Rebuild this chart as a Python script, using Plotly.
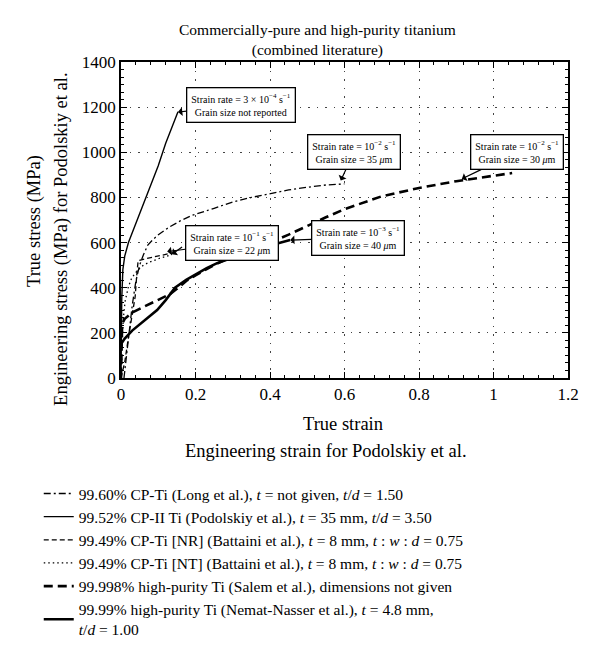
import plotly.graph_objects as go

# ---------------- data ----------------
long_x = [0.008, 0.015, 0.022, 0.030, 0.040, 0.050, 0.060, 0.072, 0.085, 0.099, 0.115, 0.13, 0.16, 0.19, 0.25, 0.30, 0.35, 0.40, 0.45, 0.50, 0.55, 0.60]
long_y = [0, 100, 200, 320, 430, 500, 545, 589, 612, 633, 652, 669, 697, 720, 752, 780, 800, 818, 833, 845, 855, 860]

podol_x = [0.0, 0.002, 0.005, 0.010, 0.020, 0.032, 0.045, 0.060, 0.073, 0.086, 0.10, 0.12, 0.14, 0.153]
podol_y = [0, 350, 480, 540, 600, 650, 705, 770, 825, 877, 940, 1040, 1130, 1180]

nr_x = [0.0, 0.010, 0.020, 0.032, 0.038, 0.042, 0.046, 0.060, 0.090, 0.120, 0.140]
nr_y = [0, 70, 180, 288, 360, 450, 520, 526, 536, 548, 555]

nt_x = [0.0, 0.003, 0.006, 0.011, 0.020, 0.028, 0.038, 0.050, 0.060, 0.075, 0.090, 0.105, 0.120, 0.137]
nt_y = [0, 150, 260, 340, 405, 440, 465, 485, 500, 512, 522, 531, 538, 548]

salem_x = [0.0, 0.003, 0.010, 0.030, 0.060, 0.10, 0.13, 0.15, 0.175, 0.20, 0.25, 0.30, 0.35, 0.40, 0.45, 0.50, 0.55, 0.60, 0.70, 0.80, 0.90, 1.00, 1.05]
salem_y = [0, 240, 262, 290, 315, 345, 370, 395, 430, 455, 500, 540, 570, 600, 635, 675, 712, 748, 805, 842, 872, 896, 908]

nemat_x = [0.0, 0.01, 0.03, 0.06, 0.097, 0.12, 0.145, 0.175, 0.204, 0.23, 0.258, 0.29, 0.32, 0.38, 0.454]
nemat_y = [150, 175, 210, 252, 301, 345, 400, 435, 463, 487, 509, 528, 545, 578, 611]

series_names = [
    "99.60% CP-Ti (Long et al.), <i>t</i> = not given, <i>t</i>/<i>d</i> = 1.50",
    "99.52% CP-II Ti (Podolskiy et al.), <i>t</i> = 35 mm, <i>t</i>/<i>d</i> = 3.50",
    "99.49% CP-Ti [NR] (Battaini et al.), <i>t</i> = 8 mm, <i>t</i> : <i>w</i> : <i>d</i> = 0.75",
    "99.49% CP-Ti [NT] (Battaini et al.), <i>t</i> = 8 mm, <i>t</i> : <i>w</i> : <i>d</i> = 0.75",
    "99.998% high-purity Ti (Salem et al.), dimensions not given",
    "99.99% high-purity Ti (Nemat-Nasser et al.), <i>t</i> = 4.8 mm,<br><i>t</i>/<i>d</i> = 1.00",
]

x_ticks = [0, 0.2, 0.4, 0.6, 0.8, 1.0, 1.2]
x_ticktext = ["0", "0.2", "0.4", "0.6", "0.8", "1", "1.2"]
y_ticks = [0, 200, 400, 600, 800, 1000, 1200, 1400]

FONT = "Liberation Serif"

fig = go.Figure()
styles = [
    (long_x, long_y, dict(color="black", width=1.3, dash="7px,3px,2px,3px")),
    (podol_x, podol_y, dict(color="black", width=1.4, dash="solid")),
    (nr_x, nr_y, dict(color="black", width=1.3, dash="5px,3px")),
    (nt_x, nt_y, dict(color="black", width=1.3, dash="1.5px,3px")),
    (salem_x, salem_y, dict(color="black", width=2.6, dash="9px,5px")),
    (nemat_x, nemat_y, dict(color="black", width=2.6, dash="solid")),
]
for (xs, ys, ln), name in zip(styles, series_names):
    fig.add_trace(go.Scatter(x=xs, y=ys, mode="lines", line=ln, name=name))

ann_font = dict(family=FONT, size=10, color="black")
box = dict(bordercolor="black", borderwidth=1.3, bgcolor="white", borderpad=4,
           font=ann_font, showarrow=True, arrowhead=1, arrowsize=1.2, arrowwidth=1.2,
           arrowcolor="black", axref="x", ayref="y", xref="x", yref="y")

annotations = [
    dict(text="Strain rate = 3 × 10<sup>−4</sup> s<sup>−1</sup><br>Grain size not reported",
         x=0.153, y=1178, ax=0.322, ay=1210, **box),
    dict(text="Strain rate = 10<sup>−2</sup> s<sup>−1</sup><br>Grain size = 35 <i>μ</i>m",
         x=0.59, y=875, ax=0.625, ay=1000, **box),
    dict(text="Strain rate = 10<sup>−2</sup> s<sup>−1</sup><br>Grain size = 30 <i>μ</i>m",
         x=0.915, y=882, ax=1.063, ay=1000, **box),
    dict(text="Strain rate = 10<sup>−1</sup> s<sup>−1</sup><br>Grain size = 22 <i>μ</i>m",
         x=0.124, y=560, ax=0.297, ay=597, **box),
    dict(text="Strain rate = 10<sup>−3</sup> s<sup>−1</sup><br>Grain size = 40 <i>μ</i>m",
         x=0.454, y=611, ax=0.636, ay=622, **box),
]
annotations.append(dict(text="", x=0.137, y=548, ax=0.168, ay=585, xref="x", yref="y",
                        axref="x", ayref="y", showarrow=True, arrowhead=1, arrowsize=1.2,
                        arrowwidth=1.2, arrowcolor="black"))
annotations += [
    dict(text="Commercially-pure and high-purity titanium<br>(combined literature)",
         xref="paper", yref="paper", x=0.44, y=1.0, yshift=1, xanchor="center", yanchor="bottom",
         showarrow=False, font=dict(family=FONT, size=15.5, color="black")),
    dict(text="True strain", xref="paper", yref="paper", x=0.496, y=0, yshift=-34,
         xanchor="center", yanchor="top", showarrow=False,
         font=dict(family=FONT, size=18.5, color="black")),
    dict(text="Engineering strain for Podolskiy et al.", xref="paper", yref="paper",
         x=0.459, y=0, yshift=-61, xanchor="center", yanchor="top", showarrow=False,
         font=dict(family=FONT, size=18.5, color="black")),
    dict(text="True stress (MPa)", xref="paper", yref="paper", x=0, xshift=-86,
         y=0.497, xanchor="center", yanchor="middle", textangle=-90, showarrow=False,
         font=dict(family=FONT, size=18.5, color="black")),
    dict(text="Engineering stress (MPa) for Podolskiy et al.", xref="paper", yref="paper",
         x=0, xshift=-59, y=0.437, xanchor="center", yanchor="middle", textangle=-90,
         showarrow=False, font=dict(family=FONT, size=18.5, color="black")),
]

axis_common = dict(
    showline=True, linecolor="black", linewidth=1.5, mirror="ticks",
    ticks="inside", ticklen=6, tickwidth=1.2, tickcolor="black",
    showgrid=True, gridcolor="#444", gridwidth=1, griddash="1.5px,7px",
    zeroline=False, tickfont=dict(family=FONT, size=17, color="black"),
    automargin=False,
)

fig.update_layout(
    width=592, height=657,
    margin=dict(l=113, r=32, t=54, b=287),
    plot_bgcolor="white", paper_bgcolor="white",
    xaxis=dict(range=[0, 1.2], tickvals=x_ticks, ticktext=x_ticktext,
               minor=dict(dtick=0.04, ticks="inside", ticklen=3, tickcolor="black", showgrid=False),
               **axis_common),
    yaxis=dict(range=[0, 1400], tickvals=y_ticks,
               minor=dict(dtick=200 / 6, ticks="inside", ticklen=3, tickcolor="black", showgrid=False),
               **axis_common),
    showlegend=True,
    legend=dict(x=-0.184, y=-0.313, xanchor="left", yanchor="top",
                font=dict(family=FONT, size=15.5, color="black"),
                bgcolor="rgba(0,0,0,0)", itemwidth=30, tracegroupgap=0),
    annotations=annotations,
    font=dict(family=FONT, color="black"),
)

fig.write_html("out.html")
